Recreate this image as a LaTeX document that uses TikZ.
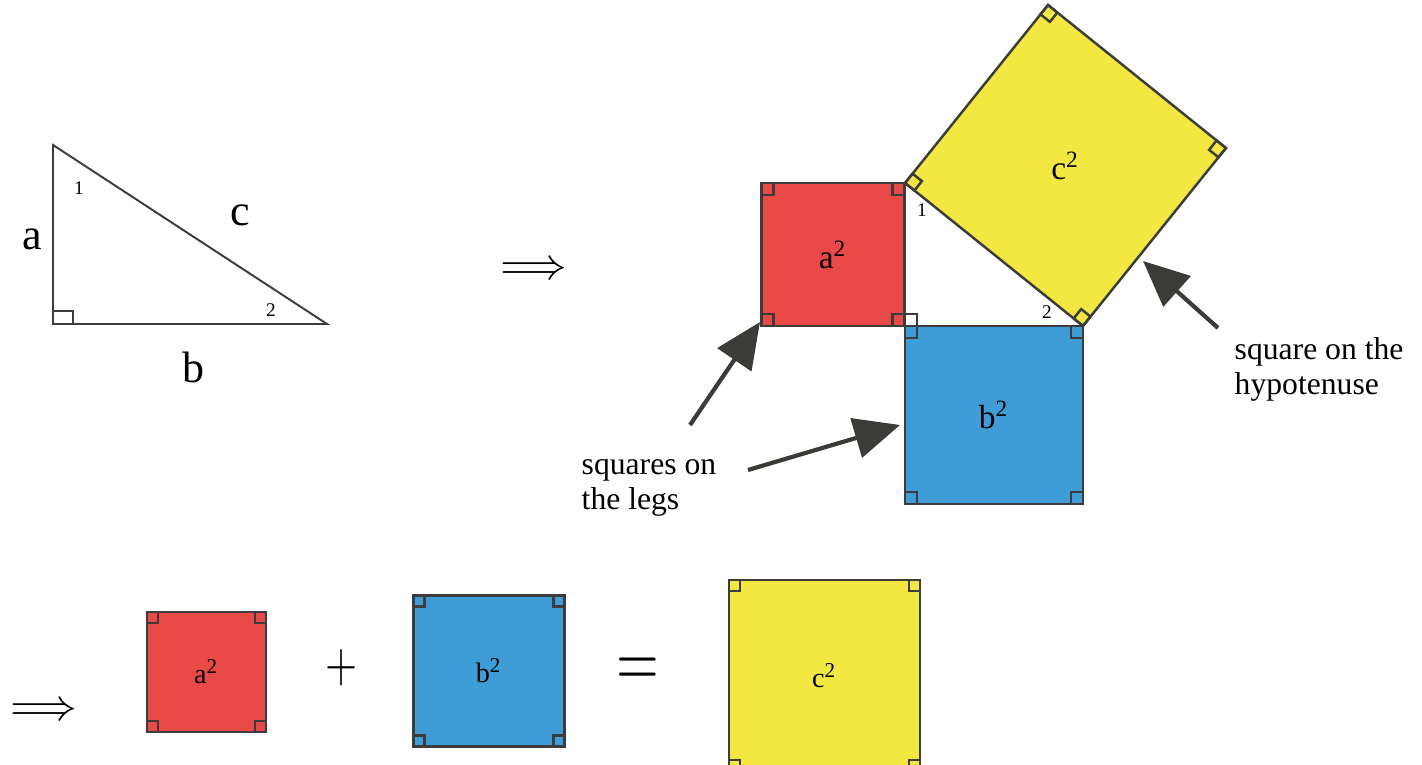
\documentclass[tikz,border=0pt]{standalone}
\usepackage{fontspec}
\usepackage{unicode-math}
\setmainfont{Liberation Serif}
\usetikzlibrary{calc, arrows.meta}

\definecolor{sqred}{HTML}{E94A47}
\definecolor{sqblue}{HTML}{3E9CD6}
\definecolor{sqyellow}{HTML}{F3E83F}
\definecolor{linegray}{HTML}{3C3C3C}
\definecolor{arrowgray}{HTML}{3B3C37}

% square with right-angle marks in its corners:
% #1 name, #2 centre, #3 side, #4 angle, #5 fill, #6 mark size, #7 label
\newcommand{\sqbox}[7]{%
    \begin{scope}[shift={#2}, rotate=#4]
        \draw[edge, fill=#5] (-#3/2,-#3/2) rectangle (#3/2,#3/2);
        \foreach \sx/\sy in {1/1,1/-1,-1/1,-1/-1} {
            \draw[edge] (\sx*#3/2,\sy*#3/2) rectangle (\sx*#3/2-\sx*#6,\sy*#3/2-\sy*#6);
        }
        \node[sqlabel] (#1) at (0,0) {#7};
    \end{scope}}

\begin{document}
\begin{tikzpicture}[x=0.01cm, y=-0.01cm,
    edge/.style={draw=linegray, line width=0.7pt},
    side/.style={draw=linegray, line width=0.55pt},
    pointer/.style={draw=arrowgray, line width=1.2pt, -{Triangle[length=13pt, width=11.5pt]}},
    sqlabel/.style={font=\fontsize{9.5}{11}\selectfont, inner sep=0pt},
    leg/.style={font=\fontsize{12.5}{14}\selectfont, inner sep=0pt},
    angnum/.style={font=\fontsize{5.5}{6}\selectfont, inner sep=0pt},
    note/.style={font=\fontsize{9}{10}\selectfont, align=left, inner sep=0pt, anchor=base west},
    implies/.style={font=\fontsize{13}{15}\selectfont, inner sep=0pt}]

    \useasboundingbox (0,0) rectangle (1422,765);
    \clip (0,0) rectangle (1422,765);

    % Triangle (left): right angle at bottom left
    \coordinate (t1) at (53,145);
    \coordinate (t0) at (53,324);
    \coordinate (t2) at (327,324);
    \draw[side] (t1) -- (t0) -- (t2) -- cycle;
    \draw[side] (t0) rectangle ++(20,-13);
    \node[leg] (la) at (32,239) {a};
    \node[leg] (lc) at (240,215) {c};
    \node[leg] (lb) at (193,367) {b};
    \node[angnum] (n1) at (79,188) {1};
    \node[angnum] (n2) at (271,310) {2};

    \node[implies] (imp1) at (534,268) {$\Longrightarrow$};

    % Squares on the three sides (top right)
    \sqbox{asq}{(833,254.5)}{143}{0}{sqred}{12}{a\textsuperscript{2}}
    \sqbox{bsq}{(994,415)}{178}{0}{sqblue}{12}{b\textsuperscript{2}}
    \sqbox{csq}{(1065.5,165.5)}{228.3}{-38.78}{sqyellow}{12}{c\textsuperscript{2}}
    \draw[edge] (905,326) rectangle ++(12,-12);
    \node[angnum] (m1) at (922,210) {1};
    \node[angnum] (m2) at (1047,312) {2};

    % Pointers to the squares
    \node[note] (legs) at (581,510) {squares on\\the legs};
    \node[note] (hyp) at (1234,395) {square on the\\hypotenuse};
    \coordinate (tailA) at (690,425);
    \coordinate (tipA) at (760,322);
    \coordinate (tailB) at (748,470);
    \coordinate (tipB) at (900,425);
    \coordinate (tailC) at (1218,328);
    \coordinate (tipC) at (1143,261);
    \draw[pointer] (tailA) -- (tipA);
    \draw[pointer] (tailB) -- (tipB);
    \draw[pointer] (tailC) -- (tipC);

    % Bottom row: a^2 + b^2 = c^2
    \node[implies] (imp2) at (44,709) {$\Longrightarrow$};
    \begin{scope}[sqlabel/.style={font=\fontsize{8}{9}\selectfont, inner sep=0pt}]
        \sqbox{asum}{(206.5,672)}{119.5}{0}{sqred}{11}{a\textsuperscript{2}}
        \sqbox{bsum}{(489,671)}{151}{0}{sqblue}{11}{b\textsuperscript{2}}
        \sqbox{csum}{(824.5,675.5)}{191}{0}{sqyellow}{11}{c\textsuperscript{2}}
    \end{scope}
    \node[implies] (plus) at (341,668) {\scalebox{0.9}[1.2]{$+$}};
    \node[implies] (equals) at (638,672) {\scalebox{1.2}[1.7]{$=$}};
\end{tikzpicture}
\end{document}
